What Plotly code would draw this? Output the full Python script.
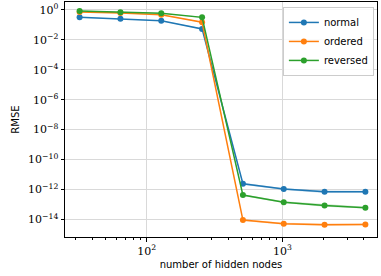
import plotly.graph_objects as go
import numpy as np

nodes = [32, 64, 128, 256, 512, 1024, 2048, 4096]
normal = [0.32, 0.26, 0.19, 0.054, 2.4e-12, 1.05e-12, 7e-13, 7e-13]
ordered = [0.74, 0.63, 0.47, 0.15, 9e-15, 5.1e-15, 4.4e-15, 4.6e-15]
reversed_ = [0.86, 0.70, 0.60, 0.32, 4.2e-13, 1.4e-13, 8.5e-14, 6e-14]
band_factor = [1.05, 1.05, 1.05, 1.1, 1.15, 1.15, 1.2, 1.15]

series = [("normal", normal, "#1f77b4"),
          ("ordered", ordered, "#ff7f0e"),
          ("reversed", reversed_, "#2ca02c")]

fill_cols = {"#1f77b4": "rgba(31,119,180,0.25)",
             "#ff7f0e": "rgba(255,127,14,0.25)",
             "#2ca02c": "rgba(44,160,44,0.25)"}

fig = go.Figure()
for name, vals, col in series:
    v = np.array(vals)
    f = np.array(band_factor)
    fig.add_trace(go.Scatter(x=nodes + nodes[::-1],
                             y=list(v * f) + list((v / f)[::-1]),
                             fill="toself", fillcolor=fill_cols[col],
                             line=dict(width=0), mode="lines",
                             showlegend=False, hoverinfo="skip"))
for name, vals, col in series:
    fig.add_trace(go.Scatter(x=nodes, y=vals, name=name, mode="lines+markers",
                             line=dict(color=col, width=1.5),
                             marker=dict(color=col, size=6)))

ytickvals = [10.0 ** e for e in range(0, -15, -2)]
yticktext = ["10<sup>%s</sup>" % (str(e) if e >= 0 else "\u2212" + str(-e)) for e in range(0, -15, -2)]

fig.update_layout(
    width=381, height=276,
    margin=dict(l=65, r=4, t=2, b=39),
    plot_bgcolor="white", paper_bgcolor="white",
    font=dict(family="DejaVu Sans", size=10, color="black"),
    legend=dict(x=0.99, y=0.979, xanchor="right", yanchor="top",
                bgcolor="rgba(255,255,255,0.85)", bordercolor="#cccccc", borderwidth=1,
                font=dict(size=10), tracegroupgap=0, itemwidth=30),
    xaxis=dict(type="log", range=[1.3975, 3.698],
               tickvals=[100, 1000], ticktext=["10<sup>2</sup>", "10<sup>3</sup>"],
               tickfont=dict(family="DejaVu Serif", size=11),
               showgrid=True, gridcolor="#d9d9d9", gridwidth=1,
               ticks="outside", ticklen=3.5, tickcolor="black",
               showline=True, linecolor="black", linewidth=1, mirror=True,
               minor=dict(ticks="outside", ticklen=2, tickcolor="black",
                          tickvals=[30, 40, 50, 60, 70, 80, 90, 200, 300, 400, 500, 600, 700, 800, 900, 2000, 3000, 4000],
                          showgrid=False),
               title=dict(text="number of hidden nodes", font=dict(size=10), standoff=4),
               zeroline=False),
    yaxis=dict(type="log", range=[-15.18, 0.53],
               tickvals=ytickvals, ticktext=yticktext,
               tickfont=dict(family="DejaVu Serif", size=11),
               showgrid=True, gridcolor="#d9d9d9", gridwidth=1,
               ticks="outside", ticklen=3.5, tickcolor="black",
               showline=True, linecolor="black", linewidth=1, mirror=True,
               title=dict(text="RMSE", font=dict(size=10), standoff=6),
               zeroline=False),
)

fig.write_html("out.html", config={"displayModeBar": False},
               post_script="document.body.style.margin='0';document.body.style.overflow='hidden';")
